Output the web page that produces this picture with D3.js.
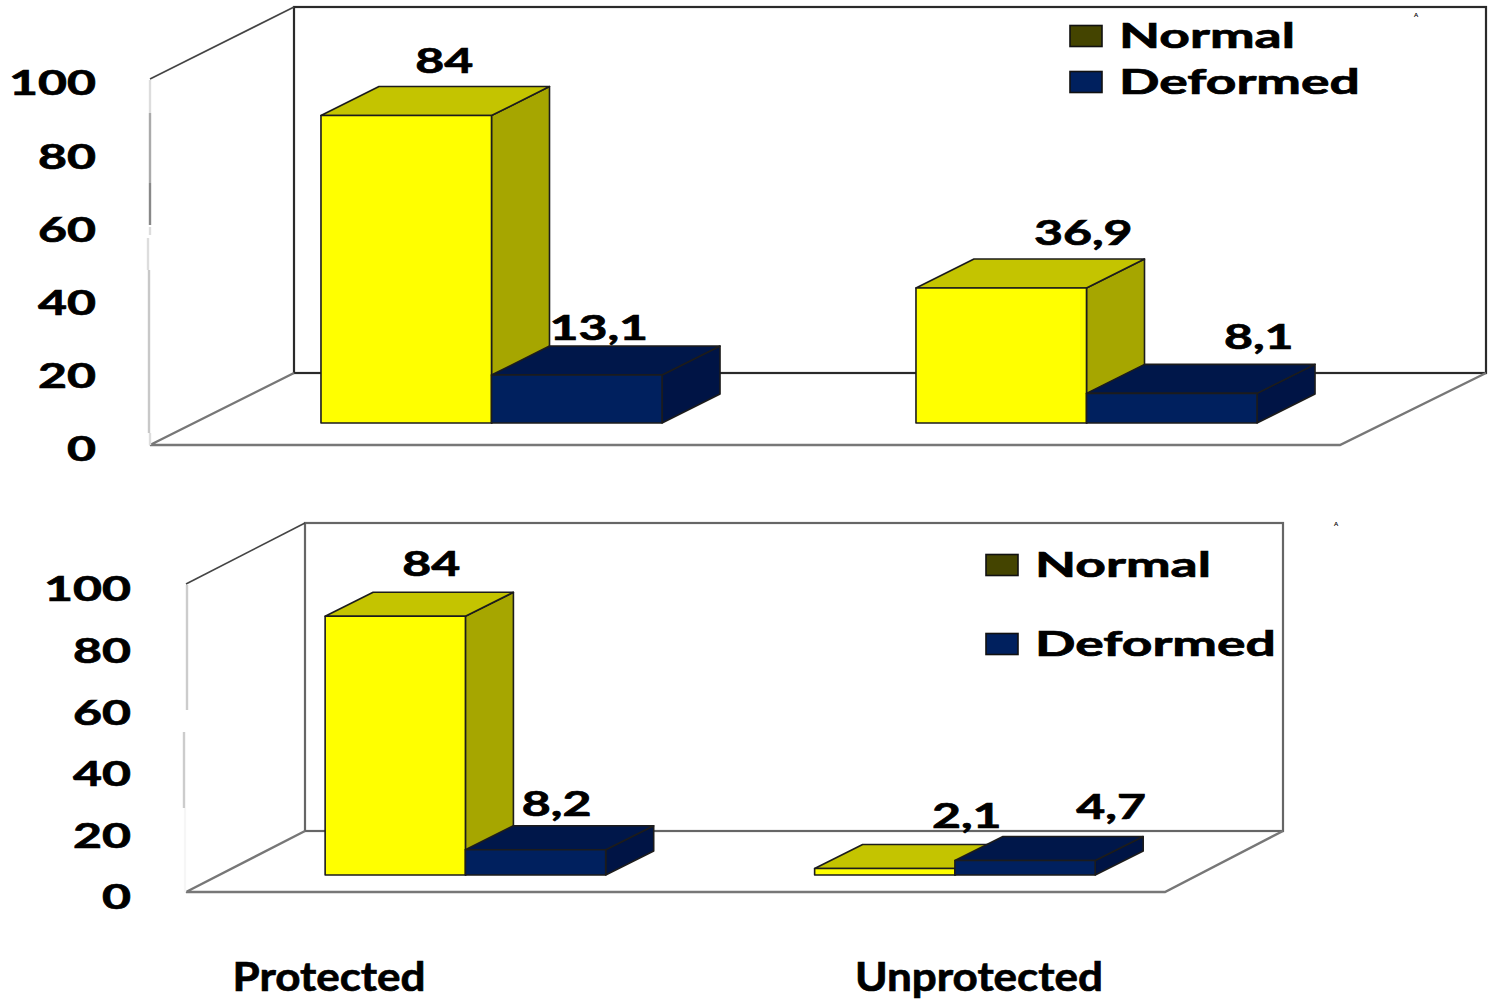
<!DOCTYPE html>
<html>
<head>
<meta charset="utf-8">
<script src="https://cdn.jsdelivr.net/npm/d3@7/dist/d3.min.js"></script>
<style>
  html, body { margin: 0; padding: 0; background: #fff; }
  svg { display: block; }
  text { font-family: Lato, "Open Sans", sans-serif; font-weight: 700; fill: #000; stroke: #000; stroke-width: 0.7px; }
</style>
</head>
<body>
<svg id="chart" width="1492" height="1000"></svg>
<script>
// Chart data
const categories = ["Protected", "Unprotected"];
const seriesNames = ["Normal", "Deformed"];
const upperNormal = [84, 36.9];
const upperDeformed = [13.1, 8.1];
const lowerNormal = [84, 2.1];
const lowerDeformed = [8.2, 4.7];
const yTicks = [0, 20, 40, 60, 80, 100];

// Palette: front, top and side faces per series, plus the legend swatch
const faces = {
  Normal:   { front: "#ffff00", top: "#c4c400", side: "#a6a600", key: "#444400" },
  Deformed: { front: "#00205e", top: "#00174a", side: "#001445", key: "#00205e" }
};

const svg = d3.select("#chart");
const numSize = 34;
const numStretch = 1.47;
const legendStretch = 1.57;

// Panel layout in page pixels
const panels = [
  {
    normal: upperNormal, deformed: upperDeformed,
    floorLeft: 150, floorRight: 1340, floorY: 445, topY: 79,
    wallDx: 144, wallDy: -72, baseInset: 22, planeAdjust: 0,
    backRight: 1486,
    barDx: 58, barDy: -29, barFrac: 0.2866,
    tickX: 96, tickDy: 5,
    wallColor: "#2a2a2a", floorColor: "#777",
    legendKeyX: 1070, legendTextX: 1119, legendY: [36, 82],
    caretX: 1416, caretY: 17,
    nudges: [[[38, -25], [22, -18]], [[82, -26], [87, -27]]],
    fade: [
      [80, 113, "#ddd", 150], [113, 183, "#aaa", 150], [183, 225, "#888", 150],
      [227, 235, "#ddd", 150], [238, 270, "#ddd", 148], [270, 433, "#c8c8c8", 149],
      [433, 445, "#ddd", 150]
    ]
  },
  {
    normal: lowerNormal, deformed: lowerDeformed,
    floorLeft: 186, floorRight: 1165, floorY: 892, topY: 584,
    wallDx: 119, wallDy: -61, baseInset: 17, planeAdjust: 1.5,
    backRight: 1283,
    barDx: 48, barDy: -24, barFrac: 0.2866,
    tickX: 131, tickDy: 6,
    wallColor: "#666", floorColor: "#777",
    legendKeyX: 986, legendTextX: 1035, legendY: [565, 644],
    caretX: 1336, caretY: 526,
    nudges: [[[36, -28], [21, -22]], [[82, -28], [86, -29]]],
    fade: [[585, 710, "#ccc", 187], [732, 808, "#ccc", 184], [808, 892, "#f6f6f6", 185]]
  }
];

const polyLine = d3.line();

panels.forEach(p => {
  const g = svg.append("g");

  // Vertical scale measured on the front plane of the floor
  const y = d3.scaleLinear().domain([0, 100]).range([p.floorY, p.topY]);

  // Bars stand on a plane set back from the front edge of the floor
  const shift = p.baseInset * p.wallDx / -p.wallDy + p.planeAdjust;
  const x0 = d3.scaleBand().domain(categories).range([p.floorLeft + shift, p.floorRight + shift]);
  const barW = x0.bandwidth() * p.barFrac;
  const baseY = p.floorY - p.baseInset;
  const unit = p.floorY - y(1);

  const backL = p.floorLeft + p.wallDx, backR = p.backRight;
  const backTop = p.topY + p.wallDy, backBottom = p.floorY + p.wallDy;

  // Back wall, side wall top edge, floor edges
  g.append("rect")
    .attr("x", backL).attr("y", backTop)
    .attr("width", backR - backL).attr("height", backBottom - backTop)
    .attr("fill", "#fff").attr("stroke", p.wallColor).attr("stroke-width", 2.2);
  g.append("path")
    .attr("d", polyLine([[p.floorLeft, p.topY], [backL, backTop]]))
    .attr("fill", "none").attr("stroke", "#444").attr("stroke-width", 1.6);
  g.append("path")
    .attr("d", polyLine([[backL, backBottom], [p.floorLeft, p.floorY], [p.floorRight, p.floorY], [backR, backBottom]]))
    .attr("fill", "none").attr("stroke", p.floorColor).attr("stroke-width", 2.4);

  // Washed-out front edge of the side wall
  g.selectAll(".fade").data(p.fade).join("line")
    .attr("x1", d => d[3]).attr("x2", d => d[3])
    .attr("y1", d => d[0]).attr("y2", d => d[1])
    .attr("stroke", d => d[2]).attr("stroke-width", 2.4);

  // Value axis: labels only
  const axis = g.append("g")
    .attr("transform", `translate(${p.tickX},${p.tickDy})`)
    .call(d3.axisLeft(y).tickValues(yTicks).tickSize(0).tickPadding(0));
  axis.select(".domain").remove();
  axis.selectAll("text")
    .attr("x", 0)
    .attr("font-size", numSize)
    .attr("transform", `scale(${numStretch},1)`)
    .style("font-family", "Lato, 'Open Sans', sans-serif")
    .style("font-weight", 700);

  // Bars as extruded boxes; Normal first so Deformed overlaps it
  seriesNames.forEach((name, si) => {
    const values = si === 0 ? p.normal : p.deformed;
    const c = faces[name];
    categories.forEach((cat, ci) => {
      const cx = x0(cat) + x0.bandwidth() / 2;
      const xL = cx + (si - 1) * barW;
      const xR = xL + barW;
      const top = baseY - values[ci] * unit;
      const bar = g.append("g");
      const dx = p.barDx, dy = p.barDy;
      const face = (pts, fill) => bar.append("path")
        .attr("d", polyLine(pts) + "Z")
        .attr("fill", fill).attr("stroke", "#1c1c1c").attr("stroke-width", 1.6)
        .attr("stroke-linejoin", "round");
      face([[xR, baseY], [xR + dx, baseY + dy], [xR + dx, top + dy], [xR, top]], c.side);
      face([[xL, top], [xL + dx, top + dy], [xR + dx, top + dy], [xR, top]], c.top);
      face([[xL, baseY], [xR, baseY], [xR, top], [xL, top]], c.front);
    });
  });

  // Value labels, drawn last so they sit above every bar
  seriesNames.forEach((name, si) => {
    const values = si === 0 ? p.normal : p.deformed;
    categories.forEach((cat, ci) => {
      const cx = x0(cat) + x0.bandwidth() / 2 + (si - 0.5) * barW;
      const top = baseY - values[ci] * unit + p.barDy;
      const n = p.nudges[ci][si];
      g.append("text")
        .attr("transform", `translate(${cx + n[0]},${top + n[1]}) scale(${numStretch},1)`)
        .attr("text-anchor", "middle").attr("dy", "0.35em")
        .attr("font-size", numSize)
        .text(String(values[ci]).replace(".", ","));
    });
  });

  // Legend
  seriesNames.forEach((name, i) => {
    g.append("rect")
      .attr("x", p.legendKeyX).attr("y", p.legendY[i] - 10.5)
      .attr("width", 32).attr("height", 21)
      .attr("fill", faces[name].key).attr("stroke", "#111").attr("stroke-width", 1.6);
    g.append("text")
      .attr("transform", `translate(${p.legendTextX},${p.legendY[i]}) scale(${legendStretch},1)`)
      .attr("dy", "0.35em").attr("font-size", numSize)
      .text(name);
  });

  // Stray mark near the upper right of the panel
  g.append("text")
    .attr("x", p.caretX).attr("y", p.caretY)
    .attr("text-anchor", "middle").attr("font-size", 6)
    .style("stroke", "none")
    .text("A");
});

// Category labels under the lower panel
const catScale = d3.scaleBand().domain(categories).range([4, 1304]);
svg.selectAll(".cat").data(categories).join("text")
  .attr("class", "cat")
  .attr("transform", d => `translate(${catScale(d) + catScale.bandwidth() / 2},991) scale(1.1,1)`)
  .attr("text-anchor", "middle").attr("font-size", 40)
  .text(d => d);
</script>
</body>
</html>
